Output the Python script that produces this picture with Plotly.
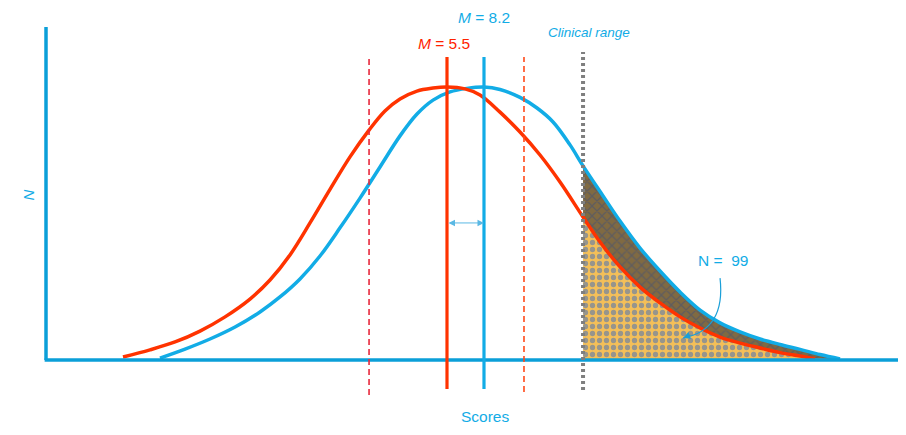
import plotly.graph_objects as go

# ---------------- data ----------------
RED_X = [-18.15, -16.18, -14.35, -12.53, -10.70, -8.88, -7.42, -5.96, -4.50, -3.04,
         -1.58, -0.19, 0.97, 2.07, 3.31, 4.48, 5.50, 6.81, 7.91, 9.37,
         10.83, 12.29, 13.75, 15.43, 16.67, 18.13, 19.59, 21.05, 22.51, 23.97,
         25.43, 26.89, 28.35, 29.81, 31.27, 32.36]
RED_N = [1.1, 3.7, 6.6, 10.6, 15.8, 22.3, 29.3, 38.5, 50.2, 62.5,
         74.4, 84.2, 91.2, 95.6, 98.5, 99.6, 100.0, 99.3, 97.1, 90.8,
         83.5, 75.1, 65.2, 52.4, 43.2, 34.1, 26.7, 20.9, 15.8, 11.7,
         8.4, 6.2, 4.4, 2.7, 1.5, 0.5]

BLUE_X = [-15.45, -13.62, -11.80, -9.97, -8.15, -6.69, -5.23, -3.77, -2.31, -0.85,
          0.61, 2.07, 3.31, 4.48, 5.72, 6.96, 8.20, 9.37, 10.83, 12.07,
          13.24, 14.48, 15.43, 16.89, 18.13, 19.59, 21.05, 22.51, 23.97, 25.43,
          26.89, 28.35, 29.81, 31.27, 32.73, 34.19]
BLUE_N = [0.7, 4.0, 7.7, 12.1, 17.6, 23.1, 29.7, 38.1, 48.4, 59.3,
          70.7, 82.1, 90.1, 95.2, 98.2, 99.5, 100.0, 99.1, 96.2, 92.3,
          87.2, 78.8, 71.1, 60.1, 50.9, 41.0, 32.6, 24.9, 18.3, 13.6,
          10.3, 7.7, 5.7, 3.9, 2.0, 0.4]

RED_MEAN = 5.5
BLUE_MEAN = 8.2
RED_SD_LO = -0.19
RED_SD_HI = 11.12
CLINICAL = 15.43
N_CLINICAL = 99

RED_LABEL = "<i>M</i> = 5.5"
BLUE_LABEL = "<i>M</i> = 8.2"
CLIN_LABEL = "<i>Clinical range</i>"
N_LABEL = "N =  %d" % N_CLINICAL
X_TITLE = "Scores"
Y_TITLE = "<i>N</i>"

# ---------------- styling ----------------
PAGE_OFF = 8                 # default body margin of the page
W, H = 906 - PAGE_OFF, 435 - PAGE_OFF
PX_PER_X = 13.7              # pixels per score unit
PX_PER_Y = 2.73              # pixels per N unit
X0_PX, Y0_PX = 447 - PAGE_OFF, 360 - PAGE_OFF   # figure pixel of (RED_MEAN, 0)

BLUE = "#12ace6"
AXIS_BLUE = "#0b9fd8"
RED = "#ff3300"
RED_DASH_L = "#e8283c"
RED_DASH_R = "#ff4a1a"
GRAY = "#7f7f7f"
FONT = "Liberation Sans, Arial, sans-serif"

x_range = [RED_MEAN - X0_PX / PX_PER_X, RED_MEAN + (W - X0_PX) / PX_PER_X]
y_range = [-(H - Y0_PX) / PX_PER_Y, Y0_PX / PX_PER_Y]
x_left_axis = RED_MEAN - (447 - 46) / PX_PER_X
y_top_axis = (360 - 27) / PX_PER_Y


def px(x):
    return (x - PAGE_OFF) / W


def py(y):
    return 1 - (y - PAGE_OFF) / H


fig = go.Figure()

# clinical-range shaded regions
red_tail = [(x, y) for x, y in zip(RED_X, RED_N) if x >= CLINICAL]
blue_tail = [(x, y) for x, y in zip(BLUE_X, BLUE_N) if x >= CLINICAL]
SPLINE = dict(shape="spline", smoothing=1.0)

fig.add_trace(go.Scatter(
    x=[p[0] for p in red_tail], y=[p[1] for p in red_tail],
    mode="lines", line=dict(width=0, **SPLINE),
    fill="tozeroy", fillcolor="#f2bf5c",
    fillpattern=dict(shape=".", bgcolor="#f4bf58", fgcolor="#3a6cc0", size=7, solidity=0.45),
    hoverinfo="skip", showlegend=False))
fig.add_trace(go.Scatter(
    x=[p[0] for p in blue_tail], y=[p[1] for p in blue_tail],
    mode="lines", line=dict(width=0, **SPLINE),
    fill="tonexty", fillcolor="#7a6946",
    fillpattern=dict(shape="x", bgcolor="#806a42", fgcolor="#3f4f7a", size=7, solidity=0.35),
    hoverinfo="skip", showlegend=False))

# curves
fig.add_trace(go.Scatter(x=BLUE_X, y=BLUE_N, mode="lines",
                         line=dict(color=BLUE, width=3.5, **SPLINE),
                         hoverinfo="skip", showlegend=False))
fig.add_trace(go.Scatter(x=RED_X, y=RED_N, mode="lines",
                         line=dict(color=RED, width=3.5, **SPLINE),
                         hoverinfo="skip", showlegend=False))

shapes = []
# axes
shapes.append(dict(type="line", xref="x", yref="y", x0=x_left_axis, x1=x_left_axis,
                   y0=0, y1=y_top_axis, line=dict(color=AXIS_BLUE, width=3.5)))
shapes.append(dict(type="line", xref="x", yref="y", x0=x_left_axis - 0.1, x1=x_range[1],
                   y0=0, y1=0, line=dict(color=AXIS_BLUE, width=3.5)))


def vline(x, y0, y1, color, width, dash="solid"):
    shapes.append(dict(type="line", xref="x", yref="y", x0=x, x1=x, y0=y0, y1=y1,
                       line=dict(color=color, width=width, dash=dash), layer="above"))


vline(RED_SD_LO, -12.8, 111, RED_DASH_L, 1.6, "6px,4px")
vline(RED_SD_HI, -11.7, 111, RED_DASH_R, 1.6, "6px,4px")
vline(CLINICAL, -11.0, 112.8, GRAY, 4, "3px,3px")
vline(RED_MEAN, -10.6, 111, RED, 3.2)
vline(BLUE_MEAN, -10.6, 111, BLUE, 3.2)

# curved connector for N label
shapes.append(dict(type="path", xref="x", yref="y",
                   path="M 25.43,30.0 Q 25.86,11.0 22.73,8.06",
                   line=dict(color="#1a9fd8", width=1.2)))

annotations = [
    dict(x=BLUE_MEAN, y=125.3, xref="x", yref="y", text=BLUE_LABEL, showarrow=False,
         font=dict(family=FONT, size=15.5, color=BLUE)),
    dict(x=RED_MEAN - 0.22, y=116.1, xref="x", yref="y", text=RED_LABEL, showarrow=False,
         font=dict(family=FONT, size=15.5, color="#ff2200")),
    dict(x=CLINICAL + 0.4, y=119.8, xref="x", yref="y", text=CLIN_LABEL, showarrow=False,
         font=dict(family=FONT, size=13.5, color=BLUE)),
    dict(x=25.65, y=36.3, xref="x", yref="y", text=N_LABEL, showarrow=False,
         font=dict(family=FONT, size=15.5, color=BLUE)),
    # double arrow between the means
    dict(x=BLUE_MEAN, y=50.2, ax=RED_MEAN, ay=50.2, xref="x", yref="y", axref="x", ayref="y",
         text="", showarrow=True, arrowside="end+start", arrowhead=2, arrowsize=1.3,
         arrowwidth=1, arrowcolor="#5ab8e4", standoff=0, startstandoff=0),
    # arrowhead at the end of curved connector
    dict(x=22.73, y=8.06, ax=23.38, ay=9.34, xref="x", yref="y", axref="x", ayref="y",
         text="", showarrow=True, arrowhead=2, arrowsize=1.3, arrowwidth=1.1,
         arrowcolor="#1a9fd8", standoff=0),
    dict(x=px(485), y=py(427), xref="paper", yref="paper", text=X_TITLE, showarrow=False,
         font=dict(family=FONT, size=15.5, color=BLUE)),
    dict(x=px(17), y=py(195), xref="paper", yref="paper", text=Y_TITLE, showarrow=False,
         textangle=-90, font=dict(family=FONT, size=15, color=BLUE)),
]

fig.update_layout(
    width=W, height=H,
    margin=dict(l=0, r=0, t=0, b=0),
    paper_bgcolor="white", plot_bgcolor="white",
    xaxis=dict(range=x_range, visible=False, fixedrange=True),
    yaxis=dict(range=y_range, visible=False, fixedrange=True),
    shapes=shapes, annotations=annotations,
    hovermode=False, showlegend=False,
)

fig.write_html("out.html", config={"displayModeBar": False})
